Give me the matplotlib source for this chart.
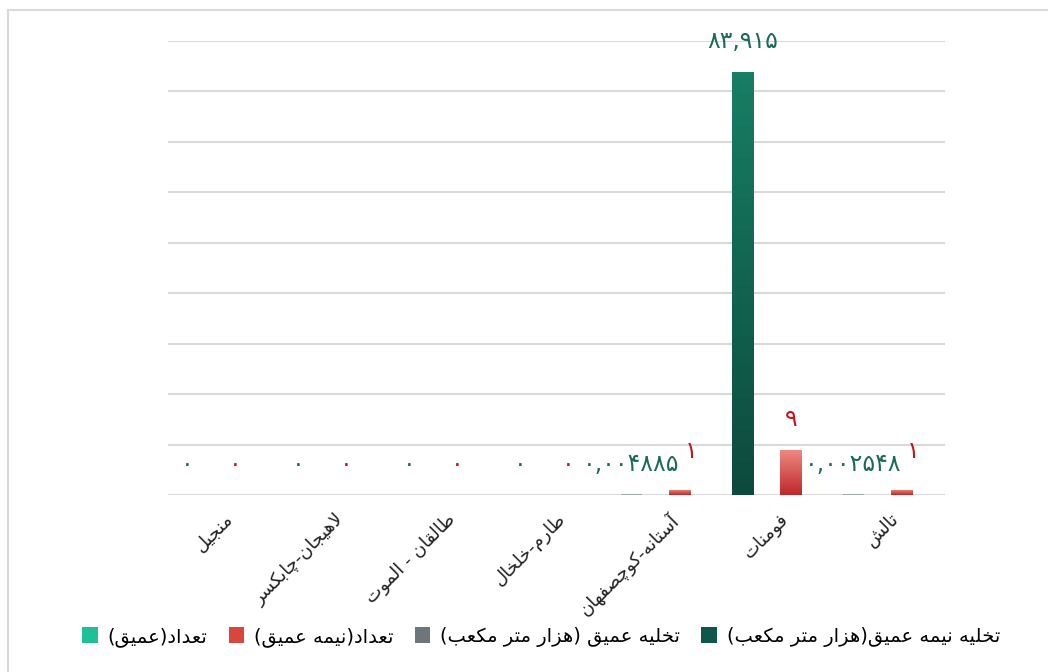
import numpy as np
import matplotlib
matplotlib.use("Agg")
import matplotlib.pyplot as plt
from matplotlib.patches import Patch, Rectangle
from matplotlib.colors import LinearSegmentedColormap

plt.rcParams['font.family'] = ['DejaVu Sans']

# ---- data (logical order, left to right on the axis) ----
categories = ["منجیل", "لاهیجان-چابکسر", "طالقان - الموت", "طارم-خلخال",
              "آستانه-کوچصفهان", "فومنات", "تالش"]
semi_deep_volume = [0, 0, 0, 0, np.nan, 83.915, np.nan]       # تخلیه نیمه عمیق
deep_volume = [np.nan, np.nan, np.nan, np.nan, 0.004885, np.nan, 0.002548]
semi_deep_count = [0, 0, 0, 0, 1, 9, 1]
deep_count = [np.nan] * 7
series_names = ["تخلیه نیمه عمیق(هزار متر مکعب)", "تخلیه عمیق (هزار متر مکعب)",
                "تعداد(نیمه عمیق)", "تعداد(عمیق)"]

# ---- minimal persian shaping (matplotlib has no bidi/shaping) ----
FORMS = {  # isolated, final, initial, medial
    'ا': ('\uFE8D', '\uFE8E', None, None), 'آ': ('\uFE81', '\uFE82', None, None),
    'ب': ('\uFE8F', '\uFE90', '\uFE91', '\uFE92'), 'ت': ('\uFE95', '\uFE96', '\uFE97', '\uFE98'),
    'ج': ('\uFE9D', '\uFE9E', '\uFE9F', '\uFEA0'), 'خ': ('\uFEA5', '\uFEA6', '\uFEA7', '\uFEA8'),
    'د': ('\uFEA9', '\uFEAA', None, None), 'ر': ('\uFEAD', '\uFEAE', None, None),
    'ز': ('\uFEAF', '\uFEB0', None, None), 'س': ('\uFEB1', '\uFEB2', '\uFEB3', '\uFEB4'),
    'ش': ('\uFEB5', '\uFEB6', '\uFEB7', '\uFEB8'), 'ص': ('\uFEB9', '\uFEBA', '\uFEBB', '\uFEBC'),
    'ط': ('\uFEC1', '\uFEC2', '\uFEC3', '\uFEC4'), 'ع': ('\uFEC9', '\uFECA', '\uFECB', '\uFECC'),
    'ف': ('\uFED1', '\uFED2', '\uFED3', '\uFED4'), 'ق': ('\uFED5', '\uFED6', '\uFED7', '\uFED8'),
    'ل': ('\uFEDD', '\uFEDE', '\uFEDF', '\uFEE0'), 'م': ('\uFEE1', '\uFEE2', '\uFEE3', '\uFEE4'),
    'ن': ('\uFEE5', '\uFEE6', '\uFEE7', '\uFEE8'), 'ه': ('\uFEE9', '\uFEEA', '\uFEEB', '\uFEEC'),
    'و': ('\uFEED', '\uFEEE', None, None), 'ی': ('\uFBFC', '\uFBFD', '\uFBFE', '\uFBFF'),
    'ک': ('\uFB8E', '\uFB8F', '\uFB90', '\uFB91'), 'چ': ('\uFB7A', '\uFB7B', '\uFB7C', '\uFB7D'),
}
LIG = {'ا': ('\uFEFB', '\uFEFC'), 'آ': ('\uFEF5', '\uFEF6')}
MIRROR = {'(': ')', ')': '('}


def fa(text):
    out, i, n = [], 0, len(text)
    while i < n:
        c = text[i]
        if c not in FORMS:
            out.append(MIRROR.get(c, c)); i += 1; continue
        prev = text[i - 1] if i > 0 else ''
        joins_prev = prev in FORMS and FORMS[prev][2] is not None
        if c == 'ل' and i + 1 < n and text[i + 1] in LIG:
            out.append(LIG[text[i + 1]][1 if joins_prev else 0]); i += 2; continue
        nxt = text[i + 1] if i + 1 < n else ''
        joins_next = FORMS[c][2] is not None and nxt in FORMS
        f = FORMS[c]
        if joins_prev and joins_next: g = f[3]
        elif joins_prev: g = f[1]
        elif joins_next: g = f[2]
        else: g = f[0]
        out.append(g); i += 1
    return ''.join(reversed(out))


def fa_num(v):
    s = f"{v:g}"
    return s.translate(str.maketrans("0123456789.", "۰۱۲۳۴۵۶۷۸۹,"))


# ---- figure ----
W, H = 1048, 672
fig = plt.figure(figsize=(W / 100, H / 100), dpi=100)
fig.patches.append(Rectangle((8 / W, -0.1), 1.2, 1 - 10 / H + 0.1, transform=fig.transFigure,
                             fill=False, edgecolor="#d9d9d9", linewidth=1.5))
ax = fig.add_axes([168 / W, 1 - 495 / H, (945 - 168) / W, (495 - 41) / H])

x = np.arange(len(categories))
bw = 0.19
off_left, off_right = -0.325, 0.11

green_top, green_bot = "#177d64", "#0d4a3d"
red_top, red_bot = "#ec8b82", "#c0282a"
gray_c = "#6d767a"
teal_c = "#1fbf9a"


def grad_bars(bars, top, bot):
    cmap = LinearSegmentedColormap.from_list("g", [bot, top])
    for b in bars:
        h = b.get_height()
        if not np.isfinite(h) or h <= 0:
            continue
        x0, w = b.get_x(), b.get_width()
        img = np.linspace(0, 1, 64).reshape(-1, 1)
        im = ax.imshow(img, extent=[x0, x0 + w, 0, h], origin="lower", aspect="auto",
                       cmap=cmap, zorder=3)
        im.set_clip_path(b)
        b.set_facecolor("none")


b1 = ax.bar(x + off_left, semi_deep_volume, bw, color=green_top, zorder=3)
b2 = ax.bar(x + off_left, deep_volume, bw, color=gray_c, zorder=3)
b3 = ax.bar(x + off_right, semi_deep_count, bw, color=red_bot, zorder=3)
ax.bar(x + off_right, deep_count, bw, color=teal_c, zorder=3)
grad_bars(b1, green_top, green_bot)
grad_bars(b3, red_top, red_bot)
for b in b2:
    if np.isfinite(b.get_height()):
        b.set_height(max(b.get_height(), 0.12))
        b.set_facecolor("#a0a8a8")

lab_kw = dict(textcoords="offset points", ha="center", va="center", fontsize=17)
for xi, v in zip(x, semi_deep_volume):
    if np.isfinite(v):
        ax.annotate(fa_num(v), (xi + off_left, v), xytext=(0, 22), color="#1b6a57", **lab_kw)
for xi, v in zip(x, deep_volume):
    if np.isfinite(v):
        ax.annotate(fa_num(v), (xi + off_left, 0), xytext=(0, 22), color="#1b6a57", **lab_kw)
for xi, v, dv in zip(x, semi_deep_count, deep_volume):
    if np.isfinite(v):
        # nudge aside when a long neighbouring label sits on the left slot
        dx, dy = ((8, 28) if np.isfinite(dv) else (0, 22))
        ax.annotate(fa_num(v), (xi + off_right, v), xytext=(dx, dy), color="#c0161c", **lab_kw)

ax.set_xlim(-0.5, len(categories) - 0.5)
ax.set_ylim(0, 90)
ax.set_yticks(np.arange(0, 91, 10))
ax.yaxis.grid(True, color="#d9d9d9", linewidth=1.5, zorder=0)
ax.set_axisbelow(True)
ax.tick_params(axis="y", left=False, labelleft=False)
ax.tick_params(axis="x", bottom=False, pad=7)
for s in ax.spines.values():
    s.set_visible(False)
ax.set_xticks(x)
ax.set_xticklabels([fa(c) for c in categories], rotation=45, ha="right",
                   rotation_mode="anchor", fontsize=13, color="#222222")

handles = [Patch(facecolor=teal_c, label=fa(series_names[3])),
           Patch(facecolor="#d9463c", label=fa(series_names[2])),
           Patch(facecolor=gray_c, label=fa(series_names[1])),
           Patch(facecolor="#10564a", label=fa(series_names[0]))]
fig.legend(handles=handles, loc="center", bbox_to_anchor=(541 / W, 1 - 637 / H), ncol=4,
           frameon=False, fontsize=14, handlelength=0.8, handleheight=0.9,
           handletextpad=0.5, columnspacing=1.1)

fig.savefig("out.png", dpi=100)
